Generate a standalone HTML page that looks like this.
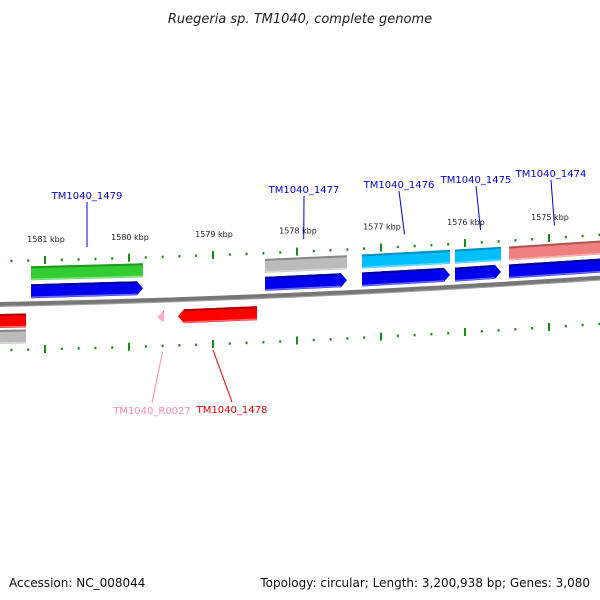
<!DOCTYPE html>
<html><head><meta charset="utf-8"><style>
html,body{margin:0;padding:0;background:#fff;}
svg{display:block;font-family:"DejaVu Sans","Liberation Sans",sans-serif;}
</style></head><body>
<svg id="chart" width="600" height="600" viewBox="0 0 600 600">
<text x="300" y="23" text-anchor="middle" font-size="13" font-style="italic" fill="#222">Ruegeria sp. TM1040, complete genome</text>
<text x="9" y="587" font-size="12" fill="#111">Accession: NC_008044</text>
<text x="590" y="587" text-anchor="end" font-size="12" fill="#111">Topology: circular; Length: 3,200,938 bp; Genes: 3,080</text>
<g id="marks"></g>
</svg>
<script>
// tick labels (kbp)
const tickLabels = [1581, 1580, 1579, 1578, 1577, 1576, 1575];
// features: start/end in kbp, row, colour, direction
const featStart = [1581.167, 1578.381, 1577.226, 1576.119, 1575.476, 1581.167, 1578.381, 1577.226, 1576.119, 1575.476, 1581.536, 1581.536, 1579.667, 1579.417];
const featEnd   = [1579.833, 1577.405, 1576.179, 1575.571, 1574.300, 1579.833, 1577.405, 1576.179, 1575.571, 1574.300, 1581.226, 1581.226, 1579.583, 1578.476];
const featRow   = [-30, -30, -30, -30, -30, -12, -12, -12, -12, -12, 17, 33, 17, 17];
const featColor = ["#33cc33","#bbbbbb","#00bfff","#00bfff","#f08080","#0000ee","#0000ee","#0000ee","#0000ee","#0000ee","#ff0000","#bbbbbb","#ffaacc","#ff0000"];
const featDark  = ["#1f991f","#888888","#0090c0","#0090c0","#b05555","#00009a","#00009a","#00009a","#00009a","#00009a","#b00000","#888888","#c07090","#b00000"];
const featDir   = [0, 0, 0, 0, 0, 1, 1, 1, 1, 0, 0, 0, -1, -1];
// labels
const labelText = ["TM1040_1479","TM1040_1477","TM1040_1476","TM1040_1475","TM1040_1474","TM1040_R0027","TM1040_1478"];
const labelKbp  = [1580.500, 1577.920, 1576.720, 1575.815, 1574.935, 1579.600, 1579.000];
const labelSide = [-1,-1,-1,-1,-1,1,1];
const labelColor= ["#0000dd","#0000dd","#0000dd","#0000dd","#0000dd","#ff88bb","#ee0000"];
const labelTextX= [87, 304, 399, 476, 551, 152, 232];
const labelTextY= [199, 193, 188, 183, 177, 414, 413];

const NS="http://www.w3.org/2000/svg";
const g=document.getElementById('marks');
function xs(k){return 45+(1581-k)*84;}
function yb(x){return 304-0.02*x-0.00004*x*x;}
function mk(tag,attrs){const e=document.createElementNS(NS,tag);for(const k in attrs)e.setAttribute(k,attrs[k]);g.appendChild(e);return e;}

// backbone
let d="";for(let x=0;x<=600;x+=10){d+=(x?"L":"M")+x+","+yb(x).toFixed(2);}
const bb=mk('path',{d:d,stroke:"#777",'stroke-width':4,fill:"none"});


let d2="";for(let x=0;x<=600;x+=10){d2+=(x?"L":"M")+x+","+(yb(x)+2.5).toFixed(2);}
mk('path',{d:d2,stroke:"#444",'stroke-width':1,fill:"none",opacity:0.5});

// ticks
for(let k=1581.8;k>=1574.2;k-=0.2){
  const kk=Math.round(k*10)/10;const x=xs(kk);if(x<0||x>600)continue;
  const major=Math.abs(kk-Math.round(kk))<0.01;
  [-43,46].forEach(off=>{
    const y=yb(x)+off;
    const t=mk('rect',{x:x-1,y:major?y-4:y-1,width:2,height:major?8:2.5,fill:"#1a8a1a"});
    
    
  });
}
tickLabels.forEach(k=>{
  const x=xs(k);
  const t=mk('text',{x:x+1,y:(yb(x)-61).toFixed(1),'text-anchor':"middle",'font-size':8,fill:"#222"});
  t.textContent=k+" kbp";
  
  
});

// features
for(let i=0;i<featStart.length;i++){
  const x1=Math.max(-5,xs(featStart[i])),x2=Math.min(605,xs(featEnd[i]));
  const h=featStart[i]-featEnd[i]<0.15?12:14;const off=featRow[i];
  const y1=yb(x1)+off,y2=yb(x2)+off;const hh=h/2;const a=6;
  let pts;
  if(featDir[i]===1) pts=[[x1,y1-hh],[x2-a,y2-hh],[x2,y2],[x2-a,y2+hh],[x1,y1+hh]];
  else if(featDir[i]===-1) pts=[[x1+a,y1-hh],[x2,y2-hh],[x2,y2+hh],[x1+a,y1+hh],[x1,y1]];
  else pts=[[x1,y1-hh],[x2,y2-hh],[x2,y2+hh],[x1,y1+hh]];
  if(featDir[i]===-1&&x2-x1<10) pts=[[x1,y1],[x2,y2-hh],[x2,y2+hh]];
  const p=mk('polygon',{points:pts.map(q=>q[0].toFixed(1)+","+q[1].toFixed(1)).join(" "),fill:featColor[i]});
  
  
  mk('path',{d:`M${x1+(featDir[i]===-1?a:0)},${(y1-hh+1).toFixed(1)}L${x2-(featDir[i]===1?a:0)},${(y2-hh+1).toFixed(1)}`,stroke:featDark[i],'stroke-width':2});
  mk('path',{d:`M${x1+(featDir[i]===-1?a:0)},${(y1+hh-1).toFixed(1)}L${x2-(featDir[i]===1?a:0)},${(y2+hh-1).toFixed(1)}`,stroke:"#fff",'stroke-width':1.5,opacity:0.4});
}

// labels
for(let i=0;i<labelText.length;i++){
  const x=xs(labelKbp[i]);const ty=labelTextY[i];
  const endY=labelSide[i]<0?yb(x)-55:yb(x)+52;
  const ln=mk('line',{x1:labelTextX[i],y1:labelSide[i]<0?ty+3:ty-11,x2:x,y2:endY.toFixed(1),stroke:labelColor[i],'stroke-width':1});
  
  
  const t=mk('text',{x:labelTextX[i],y:ty,'text-anchor':"middle",'font-size':10,fill:labelColor[i]});
  t.textContent=labelText[i];
  
  
}
</script>
</body></html>
